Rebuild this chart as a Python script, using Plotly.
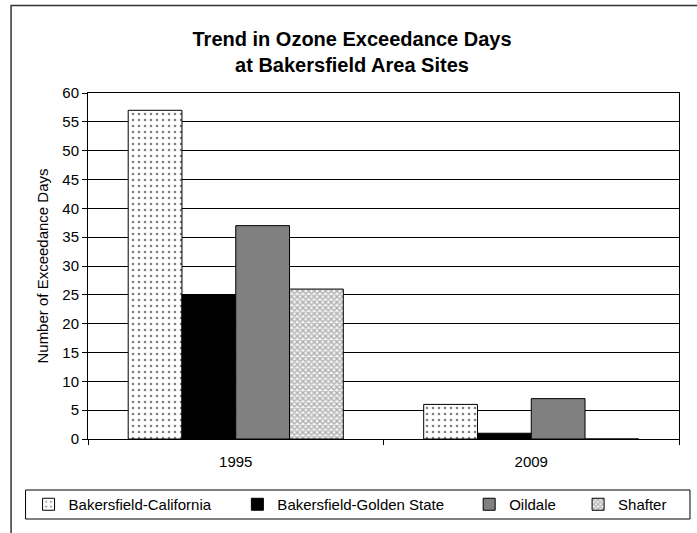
import plotly.graph_objects as go

categories = ["1995", "2009"]
series_names = ["Bakersfield-California", "Bakersfield-Golden State", "Oildale", "Shafter"]
bakersfield_california = [57, 6]
bakersfield_golden_state = [25, 1]
oildale = [37, 7]
shafter = [26, 0]
y_ticks = [0, 5, 10, 15, 20, 25, 30, 35, 40, 45, 50, 55, 60]

FONT = "Liberation Sans, Arial, sans-serif"
W, H = 697, 533
L, R, T, B = 87.5, 679, 93, 439  # plot area in px


def px_x(x):
    return (x - L) / (R - L)


def px_y(y):
    return (B - y) / (B - T)


styles = [
    dict(color="white", pattern=dict(shape=".", fgcolor="black", bgcolor="white", size=6, solidity=0.15)),
    dict(color="black"),
    dict(color="#808080"),
    dict(color="#a0a0a0", pattern=dict(shape="x", fgcolor="#666666", bgcolor="#f4f4f4", size=4, solidity=0.55)),
]
values = [bakersfield_california, bakersfield_golden_state, oildale, shafter]

fig = go.Figure()
legend_ids = ["legend", "legend2", "legend3", "legend4"]
for name, vals, st, lg in zip(series_names, values, styles, legend_ids):
    marker = dict(color=st["color"], line=dict(color="black", width=1))
    if "pattern" in st:
        marker["pattern"] = st["pattern"]
    fig.add_trace(go.Bar(x=categories, y=vals, name=name, marker=marker, legend=lg))

# legend text start positions (px) in the reference
text_starts = [68, 277, 509, 618]
leg_y = px_y(504.5)
legend_common = dict(orientation="h", yanchor="middle", y=leg_y, xanchor="left",
                     bgcolor="rgba(0,0,0,0)", borderwidth=0,
                     font=dict(family=FONT, size=15, color="black"))
for lg, ts in zip(legend_ids, text_starts):
    fig.update_layout({lg: dict(x=px_x(ts - 40), **legend_common)})

fig.update_layout(
    width=W, height=H,
    margin=dict(l=L, r=W - R, t=T, b=H - B, autoexpand=False),
    paper_bgcolor="white", plot_bgcolor="white",
    barmode="group", bargap=0.272, bargroupgap=0,
    font=dict(family=FONT, size=15, color="black"),
    title=dict(text="<b>Trend in Ozone Exceedance Days<br>at Bakersfield Area Sites</b>",
               x=352 / W, xanchor="center", xref="container",
               y=1 - 46 / H, yanchor="middle", yref="container",
               font=dict(family=FONT, size=20, color="black")),
    showlegend=True,
)

fig.update_yaxes(range=[0, 60], tickvals=y_ticks, showgrid=True, gridcolor="black", gridwidth=1,
                 showline=True, linecolor="black", linewidth=1, mirror=True,
                 ticks="outside", ticklen=5, tickcolor="black", zeroline=False,
                 tickfont=dict(family=FONT, size=15),
                 title=dict(text="Number of Exceedance Days", standoff=10,
                            font=dict(family=FONT, size=15)))
fig.update_xaxes(showline=True, linecolor="black", linewidth=1, mirror=True,
                 ticks="outside", ticklen=5, tickcolor="black", tickson="boundaries",
                 tickfont=dict(family=FONT, size=15), ticklabelstandoff=9)

# legend frame and outer chart frame
fig.add_shape(type="rect", xref="paper", yref="paper",
              x0=px_x(25), x1=px_x(690), y0=px_y(519), y1=px_y(490),
              line=dict(color="black", width=1), fillcolor="rgba(0,0,0,0)", layer="below")
fig.add_shape(type="rect", xref="paper", yref="paper",
              x0=px_x(10.5), x1=px_x(720), y0=px_y(560), y1=px_y(5.5),
              line=dict(color="#333333", width=1.5), fillcolor="rgba(0,0,0,0)", layer="below")

fig.write_html("out.html")
